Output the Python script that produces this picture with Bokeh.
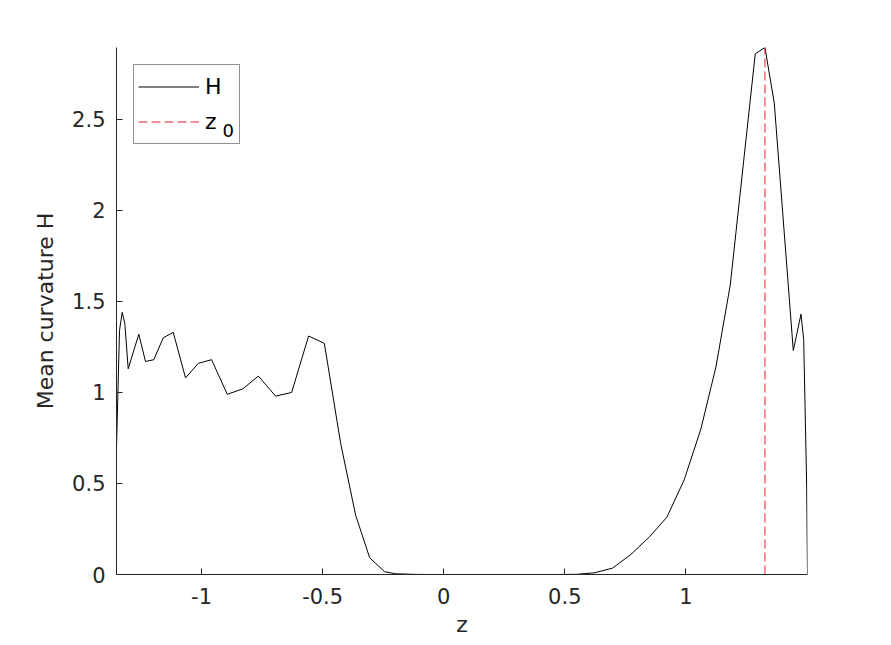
from bokeh.plotting import figure
from bokeh.models import Range1d, FixedTicker, Legend, LegendItem
from bokeh.core.properties import value
from bokeh.embed import file_html
from bokeh.resources import INLINE

# data
z = [-1.3512, -1.3388, -1.3277, -1.3169, -1.3029, -1.2591, -1.2314, -1.1971,
     -1.1583, -1.1169, -1.0661, -1.0136, -0.9587, -0.8938, -0.8293, -0.7657,
     -0.6942, -0.6281, -0.5579, -0.4930, -0.4256, -0.3636, -0.3058, -0.2438,
     -0.1983, -0.13, -0.05, 0.05, 0.15, 0.25, 0.35, 0.45, 0.55,
     0.6211, 0.6971, 0.7727, 0.8483, 0.9215, 0.9930, 1.0620, 1.1240, 1.1831,
     1.2864, 1.3264, 1.3649, 1.4434, 1.4752, 1.4864, 1.4988, 1.5021]
H = [0.70, 1.34, 1.44, 1.38, 1.13, 1.32, 1.17, 1.18,
     1.30, 1.33, 1.08, 1.16, 1.18, 0.99, 1.02, 1.09,
     0.98, 1.00, 1.31, 1.27, 0.72, 0.325, 0.092, 0.015,
     0.004, 0.001, 0.0, 0.0, 0.0, 0.0, 0.0, 0.0, 0.001,
     0.009, 0.035, 0.11, 0.205, 0.315, 0.52, 0.80, 1.14, 1.59,
     2.86, 2.895, 2.59, 1.23, 1.43, 1.29, 0.48, 0.0]
z0 = 1.3264

x_ticks = [-1, -0.5, 0, 0.5, 1]
x_tick_labels = ["-1", "-0.5", "0", "0.5", "1"]
y_ticks = [0, 0.5, 1, 1.5, 2, 2.5]
y_tick_labels = ["0", "0.5", "1", "1.5", "2", "2.5"]

AX = "#262626"
FONT = "DejaVu Sans"
FW, FH = 691, 527

x0, x1 = z[0], z[-1]
y0, y1 = 0, max(H)

p = figure(frame_width=FW, frame_height=FH, output_backend="svg",
           toolbar_location=None,
           x_range=Range1d(x0, x1), y_range=Range1d(y0, y1),
           min_border_left=116, min_border_top=47, min_border_right=76,
           min_border_bottom=70)
p.outline_line_color = None
p.xgrid.visible = False
p.ygrid.visible = False
p.background_fill_color = "white"
p.border_fill_color = "white"

r1 = p.line(z, H, line_color="black", line_width=1)
r2 = p.line([z0, z0], [0, max(H)], line_color="#e8202a", line_width=1,
            line_dash="9 4")

# subscript "0" of the legend's second label, placed at a frame pixel offset
sub_px, sub_py = 106, 83   # from frame's left / top edge
sub_x = x0 + sub_px / FW * (x1 - x0)
sub_y = y1 - sub_py / FH * (y1 - y0)
p.text(x=[sub_x], y=[sub_y], text=["0"], text_font=value(FONT),
       text_font_size="18px", text_color="black",
       text_baseline="alphabetic", text_align="left")

for ax, ticks, labels in ((p.xaxis, x_ticks, x_tick_labels),
                          (p.yaxis, y_ticks, y_tick_labels)):
    ax.ticker = FixedTicker(ticks=ticks)
    ax.major_label_overrides = {t: l for t, l in zip(ticks, labels)}
    ax.minor_tick_line_color = None
    ax.major_tick_in = 6
    ax.major_tick_out = 0
    ax.axis_line_color = AX
    ax.major_tick_line_color = AX
    ax.major_label_text_color = AX
    ax.major_label_text_font = FONT
    ax.major_label_text_font_size = "21px"
    ax.axis_label_text_font = FONT
    ax.axis_label_text_font_size = "22px"
    ax.axis_label_text_font_style = "normal"
    ax.axis_label_text_color = AX

p.xaxis.axis_label = "z"
p.yaxis.axis_label = "Mean curvature H"
p.xaxis.major_label_standoff = 13
p.xaxis.axis_label_standoff = 5
p.yaxis.major_label_standoff = 11
p.yaxis.axis_label_standoff = 11

legend = Legend(items=[LegendItem(label="H", renderers=[r1]),
                       LegendItem(label="z", renderers=[r2])],
                location="top_left")
legend.margin = 17
legend.padding = 4
legend.spacing = 0
legend.glyph_width = 61
legend.glyph_height = 35
legend.label_standoff = 6
legend.label_width = 30
legend.label_text_font = FONT
legend.label_text_font_size = "22px"
legend.label_text_color = "black"
legend.border_line_color = AX
legend.border_line_width = 1
legend.background_fill_alpha = 0
p.add_layout(legend, "center")

open("out.html", "w").write(file_html(p, INLINE))
